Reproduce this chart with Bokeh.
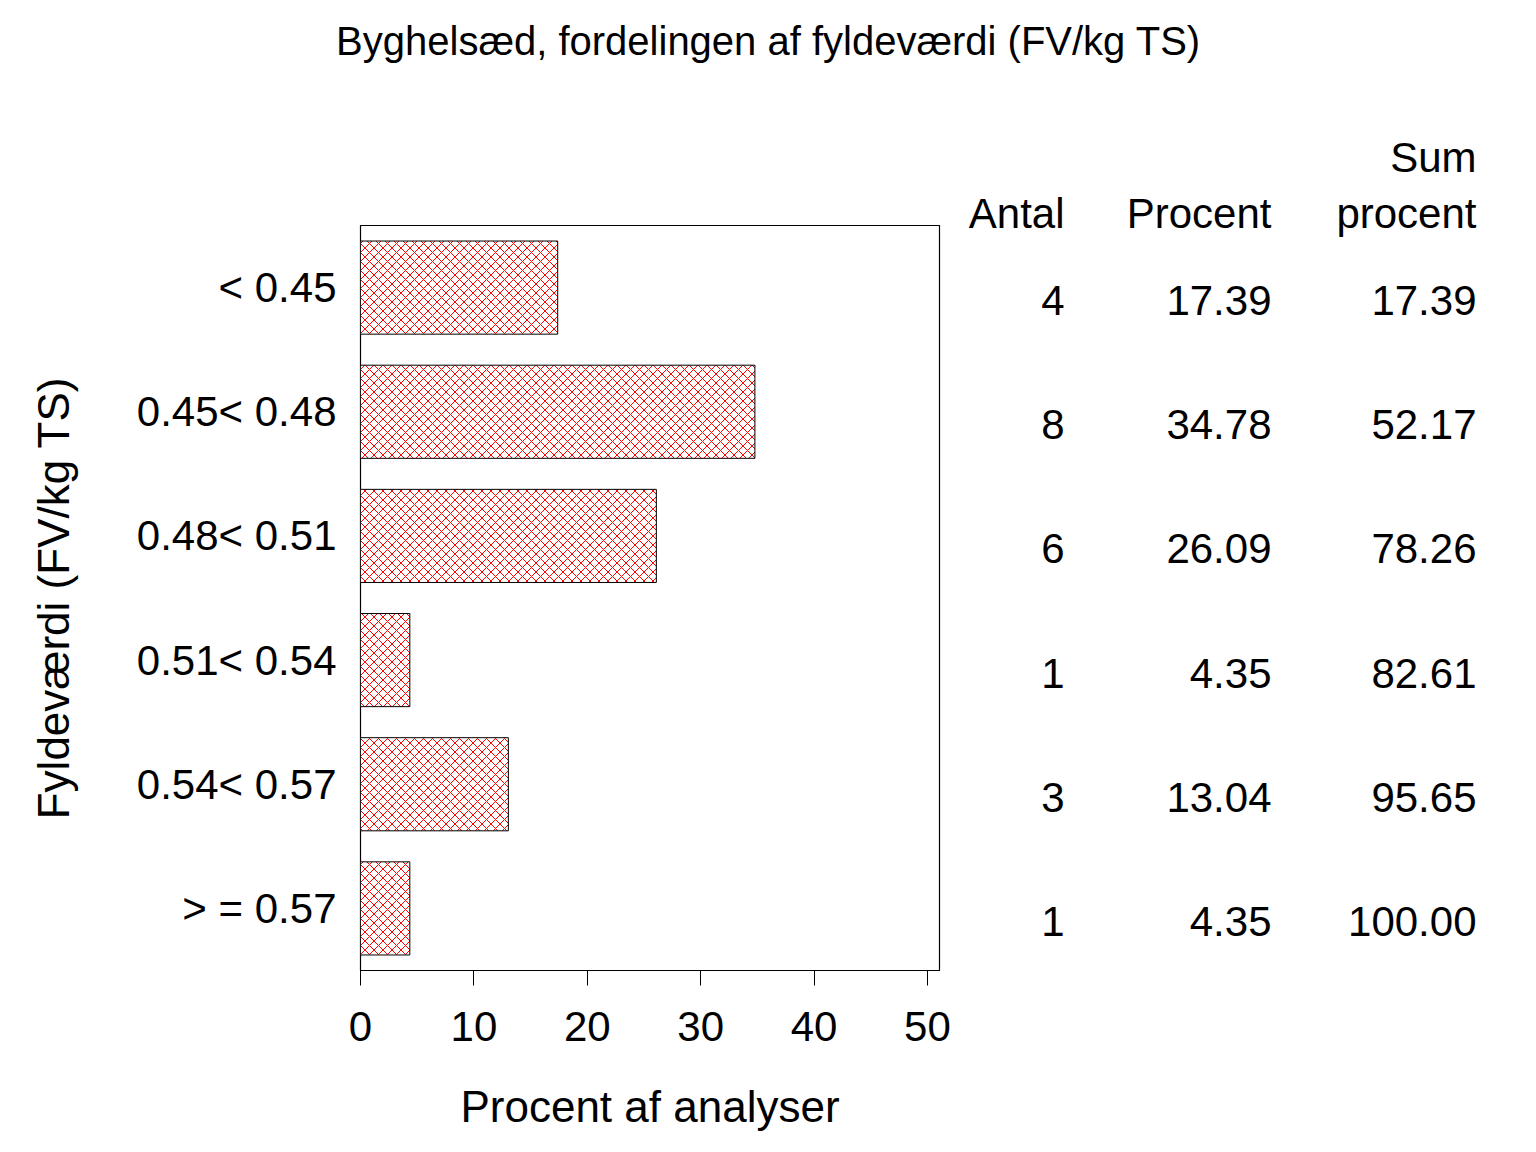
from bokeh.plotting import figure
from bokeh.layouts import column, row
from bokeh.models import ColumnDataSource, FactorRange, Range1d, FixedTicker
from bokeh.core.properties import value
from bokeh.embed import file_html
from bokeh.resources import INLINE

categories = ["< 0.45", "0.45< 0.48", "0.48< 0.51", "0.51< 0.54", "0.54< 0.57", "> = 0.57"]
antal = [4, 8, 6, 1, 3, 1]
procent = [17.39, 34.78, 26.09, 4.35, 13.04, 4.35]
sum_procent = [17.39, 52.17, 78.26, 82.61, 95.65, 100.00]
x_ticks = [0, 10, 20, 30, 40, 50]
title_text = "Byghelsæd, fordelingen af fyldeværdi (FV/kg TS)"
header_labels = ["Antal", "Procent", "procent", "Sum"]

FONT = "Liberation Sans"
FS = "42px"
FS_LAB = "44px"

FRAME_TOP = 225
OVERLAP = 30                 # strip reaches this far below the frame top
TOP_H = FRAME_TOP + OVERLAP  # height of the strip holding title and headers
ROW_H = 1136 - FRAME_TOP     # height of the chart row
MAIN_W = 960
TABLE_W = 560
TOTAL_W = MAIN_W + TABLE_W
FRAME_BOTTOM = 970 - FRAME_TOP

src = ColumnDataSource(dict(
    cat=categories,
    pct=procent,
    antal_txt=[str(a) for a in antal],
    pct_txt=["%.2f" % v for v in procent],
    sum_txt=["%.2f" % v for v in sum_procent],
))

col_x = [1064, 1271, 1476]   # right edges of the table columns (page pixels)

# ---- strip with title and table headers ----
pt = figure(width=TOTAL_W, height=TOP_H, output_backend="svg",
            toolbar_location=None, x_axis_type=None, y_axis_type=None,
            x_range=Range1d(0, TOTAL_W), y_range=Range1d(TOP_H, 0),
            min_border=0, outline_line_color=None)
pt.grid.visible = False
pt.text(x=[768], y=[40], text=[title_text], text_align="center",
        text_baseline="middle", text_font=value(FONT), text_font_size="40px",
        text_color="black")
hdr = ColumnDataSource(dict(
    x=[col_x[0], col_x[1], col_x[2], col_x[2]],
    y=[213, 213, 213, 157],
    t=header_labels,
))
pt.text(x="x", y="y", text="t", source=hdr, text_align="right",
        text_baseline="middle", text_font=value(FONT), text_font_size=FS,
        text_color="black")

# ---- main bar chart ----
p = figure(width=MAIN_W, height=ROW_H,
           y_range=FactorRange(*reversed(categories)),
           x_range=Range1d(0, 51.06),
           output_backend="svg", toolbar_location=None,
           min_border_left=360, min_border_right=MAIN_W - 939,
           min_border_top=0, min_border_bottom=ROW_H - FRAME_BOTTOM,
           border_fill_color=None, background_fill_color=None)

p.hbar(y="cat", left=0, right="pct", height=0.75, source=src,
       fill_color="white", line_color="black", line_width=1,
       hatch_pattern="diagonal_cross", hatch_color="red",
       hatch_scale=9, hatch_weight=1)

p.grid.visible = False
p.outline_line_color = "black"
p.outline_line_width = 1.2

xa = p.xaxis[0]
xa.ticker = FixedTicker(ticks=x_ticks)
xa.minor_tick_line_color = None
xa.major_tick_out = 15
xa.major_tick_in = 0
xa.major_tick_line_color = "black"
xa.axis_line_color = "black"
xa.major_label_text_font = FONT
xa.major_label_text_font_size = FS
xa.major_label_text_color = "black"
xa.major_label_standoff = 26
xa.axis_label = "Procent af analyser"
xa.axis_label_text_font = FONT
xa.axis_label_text_font_size = FS_LAB
xa.axis_label_text_color = "black"
xa.axis_label_text_font_style = "normal"
xa.axis_label_standoff = 38

ya = p.yaxis[0]
ya.axis_line_color = None
ya.major_tick_line_color = None
ya.minor_tick_line_color = None
ya.major_label_text_font = FONT
ya.major_label_text_font_size = FS
ya.major_label_text_color = "black"
ya.major_label_standoff = 18
ya.axis_label = "Fyldeværdi (FV/kg TS)"
ya.axis_label_text_font = FONT
ya.axis_label_text_font_size = FS_LAB
ya.axis_label_text_color = "black"
ya.axis_label_text_font_style = "normal"
ya.axis_label_standoff = 56

# ---- table values at the right ----
pr = figure(width=TABLE_W, height=ROW_H,
            y_range=p.y_range,
            x_range=Range1d(MAIN_W, TOTAL_W),
            output_backend="svg", toolbar_location=None,
            x_axis_type=None, y_axis_type=None,
            min_border_left=0, min_border_right=0,
            min_border_top=0, min_border_bottom=ROW_H - FRAME_BOTTOM,
            outline_line_color=None,
            border_fill_color=None, background_fill_color=None)
pr.grid.visible = False

for cx, f in zip(col_x, ["antal_txt", "pct_txt", "sum_txt"]):
    pr.text(x=cx, y="cat", text=f, source=src, text_align="right",
            text_baseline="middle", text_font=value(FONT), text_font_size=FS,
            text_color="black", y_offset=13)

chart_row = row(p, pr, spacing=0, margin=(-OVERLAP, 0, 0, 0))
layout = column(pt, chart_row, spacing=0)
open("out.html", "w").write(file_html(layout, INLINE))
